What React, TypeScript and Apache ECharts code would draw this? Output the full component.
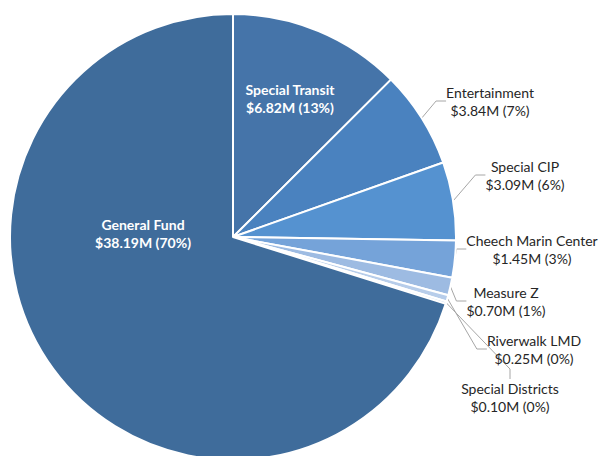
import React, { useEffect, useRef } from "react";
import * as echarts from "echarts";

const categories = [
  "Special Transit",
  "Entertainment",
  "Special CIP",
  "Cheech Marin Center",
  "Measure Z",
  "Riverwalk LMD",
  "Special Districts",
  "General Fund",
];
const values = [6.82, 3.84, 3.09, 1.45, 0.7, 0.25, 0.1, 38.19];
const colors = [
  "#4574a9",
  "#4a82bf",
  "#5592d0",
  "#75a3d9",
  "#9dbbe2",
  "#b7cdea",
  "#cddbee",
  "#3f6c9b",
];
// label anchor positions (layout only)
const labelAnchors: [number, number][] = [
  [290, 98],
  [490, 101],
  [525, 175],
  [532, 249],
  [506, 301],
  [534, 349],
  [510, 397],
  [143, 233],
];
const insideIdx = [0, 7];

export default function App() {
  const ref = useRef<HTMLDivElement>(null);
  useEffect(() => {
    document.body.style.margin = "0";
    const chart = echarts.init(ref.current!, undefined, { renderer: "svg" });
    const total = values.reduce((a, b) => a + b, 0);
    const data = categories.map((name, i) => {
      const inside = insideIdx.includes(i);
      return {
        name,
        value: values[i],
        itemStyle: { color: colors[i] },
        label: inside
          ? {
              position: "inside",
              color: "#ffffff",
              fontWeight: "bold",
            }
          : {
              position: "outside",
              color: "#262626",
              fontWeight: "normal",
            },
        labelLine: { show: !inside },
      };
    });
    chart.setOption({
      animation: false,
      series: [
        {
          type: "pie",
          center: [233, 237],
          radius: [0, 223],
          startAngle: 90,
          clockwise: true,
          avoidLabelOverlap: false,
          itemStyle: { borderColor: "#ffffff", borderWidth: 2 },
          label: {
            fontFamily: "Lato",
            fontSize: 14,
            lineHeight: 18,
            align: "center",
            formatter: (p: any) =>
              `${p.name}\n$${p.value.toFixed(2)}M (${Math.round(
                (p.value / total) * 100
              )}%)`,
          },
          labelLine: {
            show: true,
            length: 12,
            length2: 10,
            lineStyle: { color: "#a6a6a6", width: 1 },
          },
          labelLayout: (p: any) => {
            const [x, y] = labelAnchors[p.dataIndex];
            return { x, y, align: "center", verticalAlign: "middle" };
          },
          emphasis: { disabled: true },
          data,
        },
      ],
    });
    return () => chart.dispose();
  }, []);
  return (
    <div
      ref={ref}
      style={{ position: "fixed", left: 0, top: 0, width: 616, height: 456, background: "#ffffff" }}
    />
  );
}
